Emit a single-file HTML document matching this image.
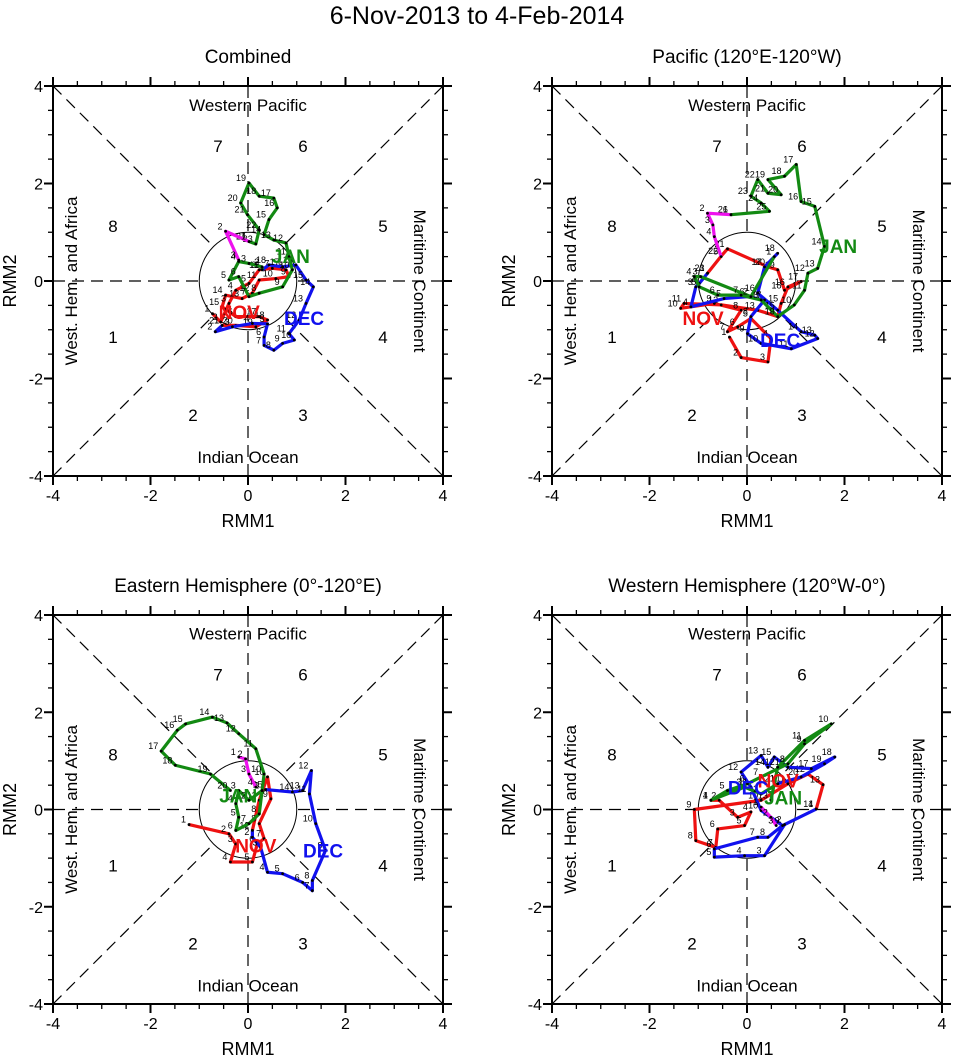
<!DOCTYPE html>
<html><head><meta charset="utf-8"><style>
body{margin:0;background:#fff;width:954px;height:1057px;overflow:hidden}
svg{display:block;font-family:"Liberation Sans",sans-serif}
</style></head><body>
<svg id="c" width="954" height="1057" viewBox="0 0 954 1057">
<text x="477" y="24" font-size="25" text-anchor="middle">6-Nov-2013 to 4-Feb-2014</text>
</svg>
<script>
// ---- data (RMM1, RMM2 per month), one set per panel ----
const panelTitles = ["Combined","Pacific (120°E-120°W)","Eastern Hemisphere (0°-120°E)","Western Hemisphere (120°W-0°)"];
const tickLabels = [-4,-2,0,2,4];
const monthNames = ["NOV","DEC","JAN","FEB"];
const monthColors = ["#ee1111","#1111ee","#138a13","#ee11ee"];

const p1Nov = [[-0.73,-0.67],[-0.56,-0.84],[-0.39,-0.46],[-0.25,-0.19],[0.02,-0.05],[0.23,0.23],[0.50,0.26],[0.78,0.23],[0.84,0.09],[0.57,0.05],[0.23,0.02],[0.09,-0.25],[-0.12,-0.36],[-0.46,-0.29],[-0.53,-0.53],[-0.25,-0.73],[0.23,-0.73],[0.40,-0.80],[0.16,-0.94],[-0.25,-0.91],[-0.53,-0.91]];
const p1Dec = [[-0.53,-0.91],[-0.67,-1.04],[-0.32,-0.94],[0.09,-0.87],[0.40,-0.88],[0.33,-1.15],[0.33,-1.32],[0.53,-1.42],[0.71,-1.28],[0.95,-1.21],[0.84,-1.08],[1.05,-0.80],[1.19,-0.46],[1.34,-0.12],[1.19,0.02],[0.98,0.33],[0.71,0.29],[0.43,0.33],[0.29,0.23]];
const p1Jan = [[0.29,0.23],[0.29,0.29],[0.02,0.36],[-0.19,0.40],[-0.39,0.02],[-0.19,0.09],[0.02,-0.32],[0.23,-0.25],[0.71,-0.12],[0.91,0.23],[0.84,0.50],[0.78,0.78],[0.53,0.84],[0.33,0.95],[0.43,1.26],[0.60,1.50],[0.53,1.70],[0.23,1.74],[0.02,2.01],[-0.15,1.60],[-0.01,1.36],[0.23,1.05],[0.16,0.76],[0.02,0.81]];
const p1Feb = [[0.02,0.81],[-0.46,1.02],[-0.19,0.43]];

const p2Nov = [[-0.36,-1.15],[-0.12,-1.57],[0.43,-1.66],[0.49,-1.18],[0.08,-0.77],[-0.19,-0.94],[-0.40,-1.04],[-0.12,-0.60],[-0.67,-0.46],[-1.36,-0.56],[-1.29,-0.46],[-0.53,-0.49],[0.22,-0.60],[0.63,-0.73],[0.70,-0.46],[0.84,-0.12],[1.11,-0.01],[0.77,-0.19],[0.63,0.23],[0.43,0.29],[-0.40,0.66],[-0.53,0.51],[-0.81,0.16]];
const p2Dec = [[-0.81,0.16],[-0.98,-0.05],[-1.05,-0.12],[-1.15,-0.53],[-0.47,-0.36],[0.01,-0.32],[0.36,-0.39],[0.08,-0.73],[0.01,-1.08],[0.29,-1.28],[0.91,-1.39],[1.45,-1.18],[1.39,-1.11],[1.11,-1.04],[0.63,-0.60],[0.22,-0.25],[0.36,0.29],[0.63,0.57]];
const p2Jan = [[0.56,0.50],[0.08,-0.32],[-0.95,0.09],[-1.08,0.09],[-0.98,-0.12],[-0.60,-0.29],[-0.12,-0.29],[0.29,-0.39],[0.63,-0.73],[0.97,-0.49],[1.18,-0.19],[1.25,0.16],[1.45,0.26],[1.59,0.71],[1.39,1.53],[1.11,1.63],[1.01,2.39],[0.77,2.15],[0.43,2.08],[0.70,1.77],[0.43,1.80],[0.22,2.08],[0.08,1.74],[0.29,1.60],[0.46,1.43],[-0.33,1.36]];
const p2Feb = [[-0.33,1.36],[-0.81,1.39],[-0.70,1.15],[-0.67,0.91],[-0.53,0.50]];

const p3Nov = [[-1.21,-0.31],[-0.39,-0.50],[-0.25,-0.71],[-0.36,-1.08],[0.09,-1.08],[0.19,-0.71],[0.33,-0.60],[0.23,-0.29],[0.47,0.22],[0.40,0.67],[0.23,0.19],[0.09,-0.43]];
const p3Dec = [[0.09,-0.43],[0.09,-0.57],[0.26,-0.78],[0.40,-1.29],[0.71,-1.32],[1.12,-1.50],[1.32,-1.67],[1.32,-1.46],[1.59,-0.84],[1.39,-0.29],[1.26,0.32],[1.30,0.80],[1.12,0.39],[0.91,0.36],[0.36,0.41]];
const p3Jan = [[0.29,0.39],[0.02,0.19],[-0.19,0.39],[-0.25,0.12],[-0.19,-0.16],[-0.25,-0.43],[0.02,-0.29],[0.23,-0.09],[0.29,0.39],[0.33,0.73],[0.16,1.25],[-0.19,1.56],[-0.43,1.78],[-0.73,1.90],[-1.28,1.76],[-1.45,1.63],[-1.78,1.20],[-1.49,0.91],[-0.77,0.73],[-0.36,0.39]];
const p3Feb = [[-0.19,1.08],[-0.05,1.04],[0.02,0.73],[0.16,0.46]];

const p4Nov = [[-0.74,0.19],[-0.57,0.19],[-0.19,-0.16],[0.08,-0.05],[-0.05,-0.33],[-0.60,-0.40],[-0.64,-0.78],[-1.05,-0.64],[-1.08,0.00],[0.29,0.19],[0.84,0.53],[1.25,0.73],[1.56,0.51],[1.42,0.01]];
const p4Dec = [[1.42,0.01],[0.77,-0.31],[0.36,-0.95],[-0.05,-0.95],[-0.67,-0.98],[-0.67,-0.81],[0.22,-0.57],[0.43,-0.57],[0.73,-0.33],[0.29,-0.02],[0.08,0.46],[-0.12,0.77],[0.29,1.11],[0.43,0.87],[0.56,1.08],[0.84,0.87],[1.32,0.84],[1.80,1.08],[1.59,0.94],[1.11,0.67],[0.63,0.53]];
const p4Jan = [[0.63,0.53],[0.29,0.32],[-0.05,0.46],[-0.74,0.19],[-0.40,0.39],[0.01,0.53],[0.29,0.67],[0.84,0.94],[1.18,1.35],[1.73,1.76],[1.18,1.42],[0.63,0.87],[0.49,0.19]];
const p4Feb = [[0.29,0.05],[0.49,-0.16],[0.60,-0.33]];

const panelSeries = [[p1Nov,p1Dec,p1Jan,p1Feb],[p2Nov,p2Dec,p2Jan,p2Feb],[p3Nov,p3Dec,p3Jan,p3Feb],[p4Nov,p4Dec,p4Jan,p4Feb]];
// month label anchor (RMM units)
const monthLabelPos = [
 [[-0.18,-0.64],[1.15,-0.76],[0.88,0.51]],
 [[-0.9,-0.76],[0.68,-1.21],[1.87,0.72]],
 [[0.16,-0.74],[1.54,-0.84],[-0.2,0.29]],
 [[0.64,0.6],[0.02,0.45],[0.74,0.25]]
];

const NS="http://www.w3.org/2000/svg";
const svg=document.getElementById('c');
function mk(tag,attrs,parent){const e=document.createElementNS(NS,tag);for(const k in attrs)e.setAttribute(k,attrs[k]);(parent||svg).appendChild(e);return e;}
const boxes=[{x:53,y:86,w:390,h:390},{x:552,y:86,w:390,h:390},{x:53,y:615,w:390,h:389},{x:552,y:615,w:390,h:389}];

boxes.forEach((b,pi)=>{
  const g=mk('g',{});
  
  
  const sx=v=>b.x+(v+4)/8*b.w, sy=v=>b.y+(4-v)/8*b.h;
  const cx=sx(0),cy=sy(0),u=b.w/8,d=u*Math.SQRT1_2;
  const t=mk('text',{x:cx,y:b.y-23,'font-size':19,'text-anchor':'middle'},g);t.textContent=panelTitles[pi];
  
  
  // dashed lines (stop at the unit circle)
  const dl=[[b.x,b.y,cx-d,cy-d],[b.x+b.w,b.y+b.h,cx+d,cy+d],[b.x,b.y+b.h,cx-d,cy+d],[b.x+b.w,b.y,cx+d,cy-d],[b.x,cy,cx-u,cy],[b.x+b.w,cy,cx+u,cy],[cx,b.y,cx,cy-u],[cx,b.y+b.h,cx,cy+u]];
  dl.forEach(l=>{const e=mk('line',{x1:l[0],y1:l[1],x2:l[2],y2:l[3],stroke:'#000','stroke-width':1.2,'stroke-dasharray':'12,7'},g);
    
    });
  const c=mk('circle',{cx:cx,cy:cy,r:u,fill:'none',stroke:'#000','stroke-width':1},g);
  
  
  // phase numbers
  const ph=[['1',-135,56],['2',-55,134],['3',55,134],['4',135,56],['5',135,-55],['6',55,-135],['7',-30,-135],['8',-135,-55]];
  ph.forEach(p=>{const e=mk('text',{x:cx+p[1],y:cy+p[2]+6,'font-size':17,'text-anchor':'middle'},g);e.textContent=p[0];
    
    });
  const reg=[['Western Pacific',cx,cy-170,0],['Indian Ocean',cx,cy+182,0],['West. Hem. and Africa',cx-171,cy,-90],['Maritime Continent',cx+166,cy,90]];
  reg.forEach(r=>{const e=mk('text',{x:r[1],y:r[2],'font-size':17,'text-anchor':'middle',transform:r[3]?`rotate(${r[3]} ${r[1]} ${r[2]})`:''},g);e.textContent=r[0];
    
    });
  // frame
  const f=mk('rect',{x:b.x,y:b.y,width:b.w,height:b.h,fill:'none',stroke:'#000','stroke-width':2},g);
  
  
  for(let v=-4;v<=4.001;v+=0.5){
    const maj=Math.abs(v%2)<1e-6, L=maj?9:5;
    const X=sx(v),Y=sy(v);
    [[X,b.y+b.h,X,b.y+b.h+L],[X,b.y,X,b.y-L],[b.x,Y,b.x-L,Y],[b.x+b.w,Y,b.x+b.w+L,Y]].forEach(l=>{
      const e=mk('line',{x1:l[0],y1:l[1],x2:l[2],y2:l[3],stroke:'#000','stroke-width':maj?2:1.3},g);
      
      });
  }
  tickLabels.forEach(v=>{
    const a=mk('text',{x:sx(v),y:b.y+b.h+25,'font-size':16,'text-anchor':'middle'},g);a.textContent=v;
    
    
    const dd=mk('text',{x:b.x-10,y:sy(v)+6,'font-size':16,'text-anchor':'end'},g);dd.textContent=v;
    
    
  });
  const xl=mk('text',{x:cx,y:b.y+b.h+51,'font-size':18,'text-anchor':'middle'},g);xl.textContent='RMM1';
  
  
  const yx=b.x-37;
  const yl=mk('text',{x:yx,y:cy,'font-size':18,'text-anchor':'middle',transform:`rotate(-90 ${yx} ${cy})`},g);yl.textContent='RMM2';
  
  
  // series
  panelSeries[pi].forEach((s,mi)=>{
    const pl=mk('polyline',{points:s.map(p=>sx(p[0])+','+sy(p[1])).join(' '),fill:'none',stroke:monthColors[mi],'stroke-width':3.2,'stroke-linejoin':'round'},g);
    
    
    s.forEach((p,di)=>{
      const dt=mk('circle',{cx:sx(p[0]),cy:sy(p[1]),r:1.4,fill:'#000'},g);
      
      
      const tx=mk('text',{x:sx(p[0])-3,y:sy(p[1])-2,'font-size':9,'text-anchor':'end'},g);tx.textContent=(di+1);
      
      
    });
  });
  monthLabelPos[pi].forEach((p,mi)=>{
    const e=mk('text',{x:sx(p[0]),y:sy(p[1])+7,'font-size':19,'font-weight':'bold','text-anchor':'middle',fill:monthColors[mi]},g);e.textContent=monthNames[mi];
    
    
  });
});
</script>
</body></html>
